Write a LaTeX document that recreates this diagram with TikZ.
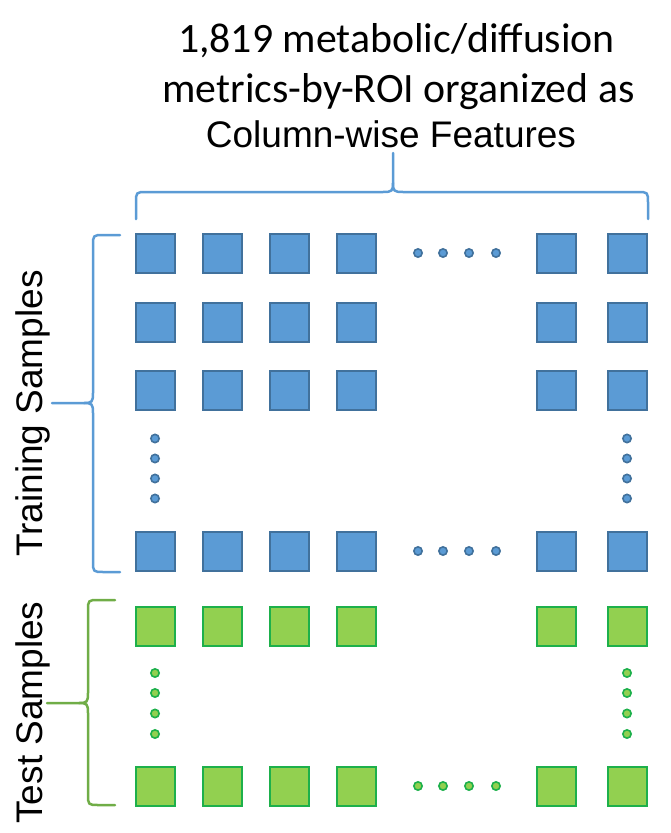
\documentclass[tikz,border=0pt]{standalone}
\usepackage{fontspec}
\setmainfont{Carlito}
\newfontfamily\arialf{Liberation Sans}
\definecolor{bfill}{HTML}{5B9BD5}
\definecolor{bline}{HTML}{41719C}
\definecolor{bbr}{HTML}{5B9BD5}
\definecolor{gfill}{HTML}{92D050}
\definecolor{gline}{HTML}{1DB04B}
\definecolor{gbr}{HTML}{70AD47}
\begin{document}
\begin{tikzpicture}[x=1pt,y=-1pt,
  bsq/.style={draw=bline,fill=bfill,line width=2pt,minimum size=39pt,inner sep=0pt,outer sep=0pt},
  gsq/.style={draw=gline,fill=gfill,line width=2pt,minimum size=39pt,inner sep=0pt,outer sep=0pt},
  bdot/.style={circle,draw=bline,fill=bfill,line width=1.6pt,minimum size=8.3pt,inner sep=0pt},
  gdot/.style={circle,draw=gline,fill=gfill,line width=1.6pt,minimum size=8.3pt,inner sep=0pt},
  bbrace/.style={draw=bbr,line width=2.5pt,line cap=round,line join=round},
  gbrace/.style={draw=gbr,line width=2.5pt,line cap=round,line join=round},
  ttl/.style={anchor=base,inner sep=0pt,font=\fontsize{41.8}{41.8}\selectfont},
  arl/.style={anchor=base,inner sep=0pt,font=\arialf\fontsize{37}{37}\selectfont}]
\useasboundingbox (0,0) rectangle (671,833);
% title
\node[ttl] (t1) at (396.5,52) {1,819 metabolic/diffusion};
\node[ttl] (t2) at (398.5,102) {metrics-by-ROI organized as};
\node[arl] (t3) at (391,147) {Column-wise Features};
% side labels
\node[arl,rotate=90] (train) at (42,413.5) {Training Samples};
\node[arl,rotate=90] (test) at (42,712.5) {Test Samples};
% training squares
\foreach \r/\y in {1/253.5,2/322.5,3/390.5,4/551.5}{
  \foreach \c/\x in {1/155.5,2/222.5,3/289.5,4/356.5,5/556.5,6/627.5}{
    \node[bsq] (b\r\c) at (\x,\y) {};
  }
}
% test squares
\foreach \r/\y in {1/626,2/786}{
  \foreach \c/\x in {1/155.5,2/222.5,3/289.5,4/356.5,5/556.5,6/627.5}{
    \node[gsq] (g\r\c) at (\x,\y) {};
  }
}
% horizontal dots
\foreach \i/\x in {1/418,2/443,3/469,4/496}{
  \node[bdot] (bh1\i) at (\x,253) {};
  \node[bdot] (bh4\i) at (\x,551) {};
  \node[gdot] (gh2\i) at (\x,786) {};
}
% vertical dots
\foreach \i/\y in {1/438.5,2/458.5,3/478.5,4/498.5}{
  \node[bdot] (bvl\i) at (155,\y) {};
  \node[bdot] (bvr\i) at (627,\y) {};
}
\foreach \i/\y in {1/673,2/693,3/713.5,4/734}{
  \node[gdot] (gvl\i) at (155,\y) {};
  \node[gdot] (gvr\i) at (627,\y) {};
}
% top brace
\draw[bbrace] (136,219) -- (136,203) .. controls (136,192) and (136,192) .. (147,192) -- (383,192) .. controls (392,192) and (393,191) .. (393,183) -- (393,153);
\draw[bbrace] (393,183) .. controls (393,191) and (394,192) .. (403,192) -- (637,192) .. controls (648,192) and (648,192) .. (648,203) -- (648,219);
% training brace
\draw[bbrace] (120,235) -- (104,235) .. controls (93,235) and (93,235) .. (93,246) -- (93,393) .. controls (93,402) and (92,403) .. (84,403) -- (52,403);
\draw[bbrace] (84,403) .. controls (92,403) and (93,404) .. (93,413) -- (93,561) .. controls (93,572) and (93,572) .. (104,572) -- (120,572);
% test brace
\draw[gbrace] (115,600) -- (99,600) .. controls (88,600) and (88,600) .. (88,611) -- (88,693) .. controls (88,702) and (87,703) .. (79,703) -- (47,703);
\draw[gbrace] (79,703) .. controls (87,703) and (88,704) .. (88,713) -- (88,794) .. controls (88,805) and (88,805) .. (99,805) -- (115,805);
\end{tikzpicture}
\end{document}
